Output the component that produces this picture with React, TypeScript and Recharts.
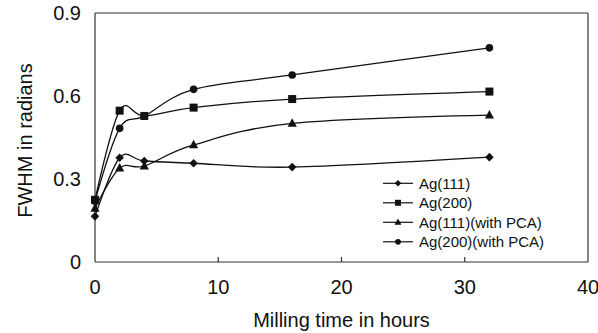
import React from "react";
import {
  Label,
  Legend,
  Line,
  LineChart,
  ReferenceLine,
  XAxis,
  YAxis,
} from "recharts";

// milling time (hours) and FWHM (radians)
const hours = [0, 2, 4, 8, 16, 32];
const ag111 = [0.165, 0.377, 0.365, 0.357, 0.343, 0.379];
const ag200 = [0.225, 0.547, 0.528, 0.558, 0.589, 0.616];
const ag111Pca = [0.194, 0.339, 0.347, 0.423, 0.501, 0.531];
const ag200Pca = [0.22, 0.483, 0.527, 0.624, 0.676, 0.774];

const xTicks = [0, 10, 20, 30, 40];
const yTicks = [0, 0.3, 0.6, 0.9];

const FONT = "'Liberation Sans', Arial, sans-serif";
const INK = "#111";

type Shape = "diamond" | "square" | "triangle" | "circle";

const series: { key: string; name: string; shape: Shape; values: number[] }[] = [
  { key: "ag111", name: "Ag(111)", shape: "diamond", values: ag111 },
  { key: "ag200", name: "Ag(200)", shape: "square", values: ag200 },
  { key: "ag111Pca", name: "Ag(111)(with PCA)", shape: "triangle", values: ag111Pca },
  { key: "ag200Pca", name: "Ag(200)(with PCA)", shape: "circle", values: ag200Pca },
];

const data = hours.map((hour, i) => {
  const row: { [k: string]: number } = { hour };
  series.forEach((s) => (row[s.key] = s.values[i]));
  return row;
});

// Excel-like smoothing: cardinal spline with tension 0 (Catmull-Rom)
const smoothCurve = (context: any) => {
  const k = 1 / 6;
  let x0 = NaN, y0 = NaN, x1 = NaN, y1 = NaN, x2 = NaN, y2 = NaN;
  let state = 0;
  const seg = (x: number, y: number) => {
    context.bezierCurveTo(
      x1 + k * (x2 - x0),
      y1 + k * (y2 - y0),
      x2 + k * (x1 - x),
      y2 + k * (y1 - y),
      x2,
      y2
    );
  };
  return {
    areaStart() {},
    areaEnd() {},
    lineStart() {
      x0 = x1 = x2 = y0 = y1 = y2 = NaN;
      state = 0;
    },
    lineEnd() {
      if (state === 2) context.lineTo(x2, y2);
      else if (state === 3) seg(x1, y1);
    },
    point(x: number, y: number) {
      switch (state) {
        case 0:
          state = 1;
          context.moveTo(x, y);
          break;
        case 1:
          state = 2;
          x1 = x;
          y1 = y;
          break;
        case 2:
          state = 3;
          seg(x, y);
          break;
        default:
          seg(x, y);
      }
      x0 = x1; x1 = x2; x2 = x;
      y0 = y1; y1 = y2; y2 = y;
    },
  };
};

const Marker = ({ shape, cx, cy, s = 1 }: { shape: Shape; cx: number; cy: number; s?: number }) => {
  if (shape === "diamond") {
    const r = 4.3 * s;
    return <polygon points={`${cx},${cy - r} ${cx + r},${cy} ${cx},${cy + r} ${cx - r},${cy}`} fill={INK} />;
  }
  if (shape === "square") {
    const r = 4 * s;
    return <rect x={cx - r} y={cy - r} width={2 * r} height={2 * r} fill={INK} />;
  }
  if (shape === "triangle") {
    const w = 4.6 * s;
    const h = 8.5 * s;
    return <polygon points={`${cx},${cy - h * 0.6} ${cx + w},${cy + h * 0.4} ${cx - w},${cy + h * 0.4}`} fill={INK} />;
  }
  return <circle cx={cx} cy={cy} r={3.8 * s} fill={INK} />;
};

const LegendBox = () => (
  <svg width={200} height={84} style={{ display: "block" }}>
    {series.map((s, i) => {
      const y = 10.3 + i * 19.5;
      return (
        <g key={s.key}>
          <line x1={3} x2={33} y1={y} y2={y} stroke={INK} strokeWidth={1.2} />
          <Marker shape={s.shape} cx={18} cy={y} s={0.75} />
          <text x={39} y={y + 5.3} fontSize={15} fontFamily={FONT} fill={INK}>
            {s.name}
          </text>
        </g>
      );
    })}
  </svg>
);

const App = () => {
  return (
    <div style={{ position: "absolute", left: 0, top: 0, background: "#fff" }}>
      <LineChart
        width={598}
        height={333}
        data={data}
        margin={{ top: 13, right: 10, left: 0, bottom: 0 }}
      >
        <XAxis
          dataKey="hour"
          type="number"
          domain={[0, 40]}
          ticks={xTicks}
          height={71}
          tickLine={false}
          tickSize={0}
          tickMargin={18}
          axisLine={{ stroke: "#333", strokeWidth: 1.2 }}
          tick={{ fill: INK, fontSize: 20, fontFamily: FONT }}
        >
          <Label
            content={({ viewBox }: any) => (
              <text
                x={viewBox.x + viewBox.width / 2}
                y={327}
                textAnchor="middle"
                fontSize={20}
                fontFamily={FONT}
                fill={INK}
              >
                Milling time in hours
              </text>
            )}
          />
        </XAxis>
        <YAxis
          type="number"
          domain={[0, 0.9]}
          ticks={yTicks}
          width={95}
          tickLine={false}
          tickSize={0}
          tickMargin={14}
          axisLine={{ stroke: "#333", strokeWidth: 1.2 }}
          tickFormatter={(v: number) => (v === 0 ? "0" : v.toFixed(1))}
          tick={{ fill: INK, fontSize: 20, fontFamily: FONT }}
        >
          <Label
            content={({ viewBox }: any) => {
              const cy = viewBox.y + viewBox.height / 2 + 3;
              return (
                <text
                  x={31.5}
                  y={cy}
                  transform={`rotate(-90, 31.5, ${cy})`}
                  textAnchor="middle"
                  fontSize={20}
                  fontFamily={FONT}
                  fill={INK}
                >
                  FWHM in radians
                </text>
              );
            }}
          />
        </YAxis>
        <ReferenceLine y={0.9} stroke="#333" strokeWidth={1.2} />
        <ReferenceLine x={40} stroke="#333" strokeWidth={1.2} />
        {xTicks.slice(1, -1).map((t) => (
          <ReferenceLine
            key={`tick-${t}`}
            segment={[
              { x: t, y: 0 },
              { x: t, y: 0.018 },
            ]}
            stroke="#333"
            strokeWidth={1.2}
          />
        ))}
        <Legend
          layout="vertical"
          align="center"
          verticalAlign="middle"
          content={() => <LegendBox />}
          wrapperStyle={{ position: "absolute", left: 380, top: 173, width: 200, height: 84 }}
        />
        {series.map((s) => (
          <Line
            key={s.key}
            dataKey={s.key}
            name={s.name}
            type={smoothCurve as any}
            stroke={INK}
            strokeWidth={1.3}
            isAnimationActive={false}
            dot={(p: any) => (
              <Marker key={`${s.key}-${p.index}`} shape={s.shape} cx={p.cx} cy={p.cy} />
            )}
            activeDot={false}
          />
        ))}
      </LineChart>
    </div>
  );
};

export default App;
